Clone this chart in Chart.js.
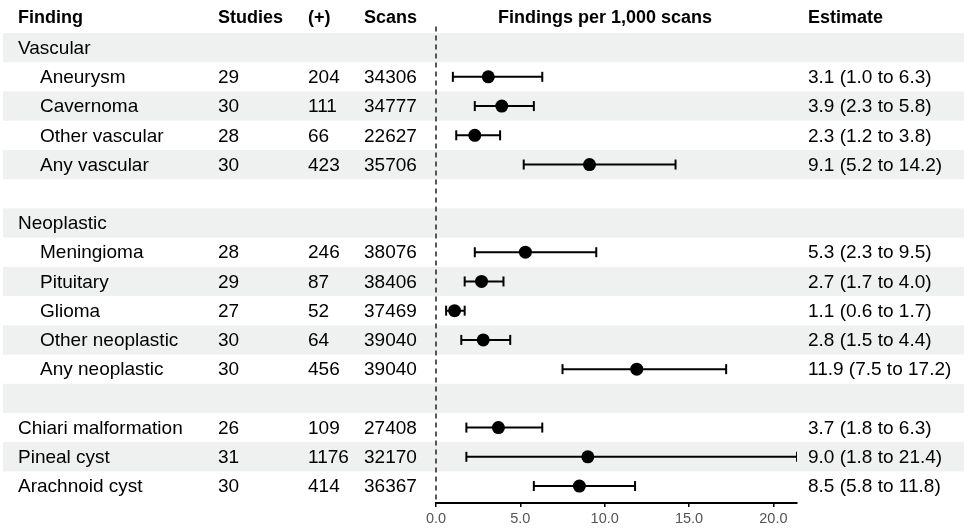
<!DOCTYPE html>
<html>
<head>
<meta charset="utf-8">
<script src="https://cdn.jsdelivr.net/npm/chart.js@4/dist/chart.umd.min.js"></script>
<style>
  html, body { margin: 0; padding: 0; background: #ffffff; }
  #wrap { position: relative; width: 966px; height: 528px; }
</style>
</head>
<body>
<div id="wrap"><canvas id="c" width="966" height="528"></canvas></div>
<script>
// ---- Data ----
const headers = ["Finding", "Studies", "(+)", "Scans", "Findings per 1,000 scans", "Estimate"];
const findings = ["Vascular", "Aneurysm", "Cavernoma", "Other vascular", "Any vascular", "",
  "Neoplastic", "Meningioma", "Pituitary", "Glioma", "Other neoplastic", "Any neoplastic", "",
  "Chiari malformation", "Pineal cyst", "Arachnoid cyst"];
const indented = [false, true, true, true, true, false, false, true, true, true, true, true, false, false, false, false];
const studies = [null, 29, 30, 28, 30, null, null, 28, 29, 27, 30, 30, null, 26, 31, 30];
const positives = [null, 204, 111, 66, 423, null, null, 246, 87, 52, 64, 456, null, 109, 1176, 414];
const scans = [null, 34306, 34777, 22627, 35706, null, null, 38076, 38406, 37469, 39040, 39040, null, 27408, 32170, 36367];
const estimate = [null, 3.1, 3.9, 2.3, 9.1, null, null, 5.3, 2.7, 1.1, 2.8, 11.9, null, 3.7, 9.0, 8.5];
const lower = [null, 1.0, 2.3, 1.2, 5.2, null, null, 2.3, 1.7, 0.6, 1.5, 7.5, null, 1.8, 1.8, 5.8];
const upper = [null, 6.3, 5.8, 3.8, 14.2, null, null, 9.5, 4.0, 1.7, 4.4, 17.2, null, 6.3, 21.4, 11.8];
const xTicks = [0, 5, 10, 15, 20];

// ---- Build datasets (row index 1..16; header row 0) ----
const pts = [], caps = [], whisk = [];
findings.forEach((f, i) => {
  const r = i + 1;
  if (estimate[i] !== null) {
    pts.push({x: estimate[i], y: r});
    caps.push({x: lower[i], y: r}, {x: upper[i], y: r});
    whisk.push({x: lower[i], y: r}, {x: upper[i], y: r}, {x: upper[i], y: null});
  }
});

const FONT = '"Liberation Sans", Arial, Helvetica, sans-serif';
const colX = {finding: 18, indent: 40, studies: 218, pos: 308, scans: 364, est: 808};

const tablePlugin = {
  id: 'tablePlugin',
  beforeDatasetsDraw(chart) {
    const ctx = chart.ctx, y = chart.scales.y, x = chart.scales.x;
    const half = Math.abs(y.getPixelForValue(1) - y.getPixelForValue(2)) / 2;
    ctx.save();
    // row shading
    findings.forEach((f, i) => {
      if (i % 2 === 0) {
        const cy = y.getPixelForValue(i + 1);
        ctx.fillStyle = '#eef1ef';
        ctx.fillRect(3, cy - half, 961, half * 2);
      }
    });
    // dashed zero line
    const x0 = x.getPixelForValue(0);
    ctx.strokeStyle = '#222';
    ctx.lineWidth = 1.5;
    ctx.setLineDash([5, 4]);
    ctx.beginPath();
    ctx.moveTo(x0, y.getPixelForValue(0) + 8);
    ctx.lineTo(x0, chart.chartArea.bottom);
    ctx.stroke();
    ctx.setLineDash([]);
    ctx.restore();
  },
  afterDraw(chart) {
    const ctx = chart.ctx, y = chart.scales.y, x = chart.scales.x;
    ctx.save();
    ctx.fillStyle = '#000';
    ctx.textBaseline = 'middle';
    // headers
    const hy = y.getPixelForValue(0);
    ctx.font = 'bold 18px ' + FONT;
    ctx.textAlign = 'left';
    ctx.fillText(headers[0], colX.finding, hy);
    ctx.fillText(headers[1], colX.studies, hy);
    ctx.fillText(headers[2], colX.pos, hy);
    ctx.fillText(headers[3], colX.scans, hy);
    ctx.fillText(headers[5], colX.est, hy);
    ctx.textAlign = 'center';
    ctx.fillText(headers[4], 605, hy);
    // rows
    ctx.font = '19px ' + FONT;
    ctx.textAlign = 'left';
    findings.forEach((f, i) => {
      const cy = y.getPixelForValue(i + 1) + 1;
      ctx.fillText(f, indented[i] ? colX.indent : colX.finding, cy);
      if (studies[i] !== null) ctx.fillText(String(studies[i]), colX.studies, cy);
      if (positives[i] !== null) ctx.fillText(String(positives[i]), colX.pos, cy);
      if (scans[i] !== null) ctx.fillText(String(scans[i]), colX.scans, cy);
      if (estimate[i] !== null) {
        ctx.fillText(estimate[i].toFixed(1) + ' (' + lower[i].toFixed(1) + ' to ' + upper[i].toFixed(1) + ')', colX.est, cy);
      }
    });
    ctx.restore();
  }
};

new Chart(document.getElementById('c'), {
  type: 'scatter',
  data: {
    datasets: [
      {
        type: 'line', data: whisk, borderColor: '#000', borderWidth: 2,
        pointRadius: 0, spanGaps: false, fill: false, order: 3
      },
      {
        data: caps, pointStyle: 'line', rotation: 90, radius: 5,
        borderColor: '#000', borderWidth: 2, order: 2
      },
      {
        data: pts, pointStyle: 'circle', radius: 6.5,
        backgroundColor: '#000', borderColor: '#000', borderWidth: 0, order: 1
      }
    ]
  },
  options: {
    responsive: false,
    animation: false,
    events: [],
    layout: { padding: { left: 436, right: 169, top: 33, bottom: 0 } },
    plugins: { legend: { display: false }, tooltip: { enabled: false } },
    scales: {
      x: {
        type: 'linear', min: 0, max: 21.4,
        afterBuildTicks(scale) { scale.ticks = xTicks.map(v => ({value: v})); },
        afterFit(scale) { scale.height = 25; },
        border: { display: true, color: '#000', width: 2 },
        grid: { display: true, drawOnChartArea: false, drawTicks: true, tickLength: 4, color: '#000', lineWidth: 1.5 },
        ticks: {
          padding: 3, color: '#555555', font: { family: FONT, size: 14.5 },
          callback: v => Number(v).toFixed(1)
        }
      },
      y: {
        type: 'linear', min: 0.5, max: 16.58, reverse: true, display: false
      }
    }
  },
  plugins: [tablePlugin]
});
</script>
</body>
</html>
